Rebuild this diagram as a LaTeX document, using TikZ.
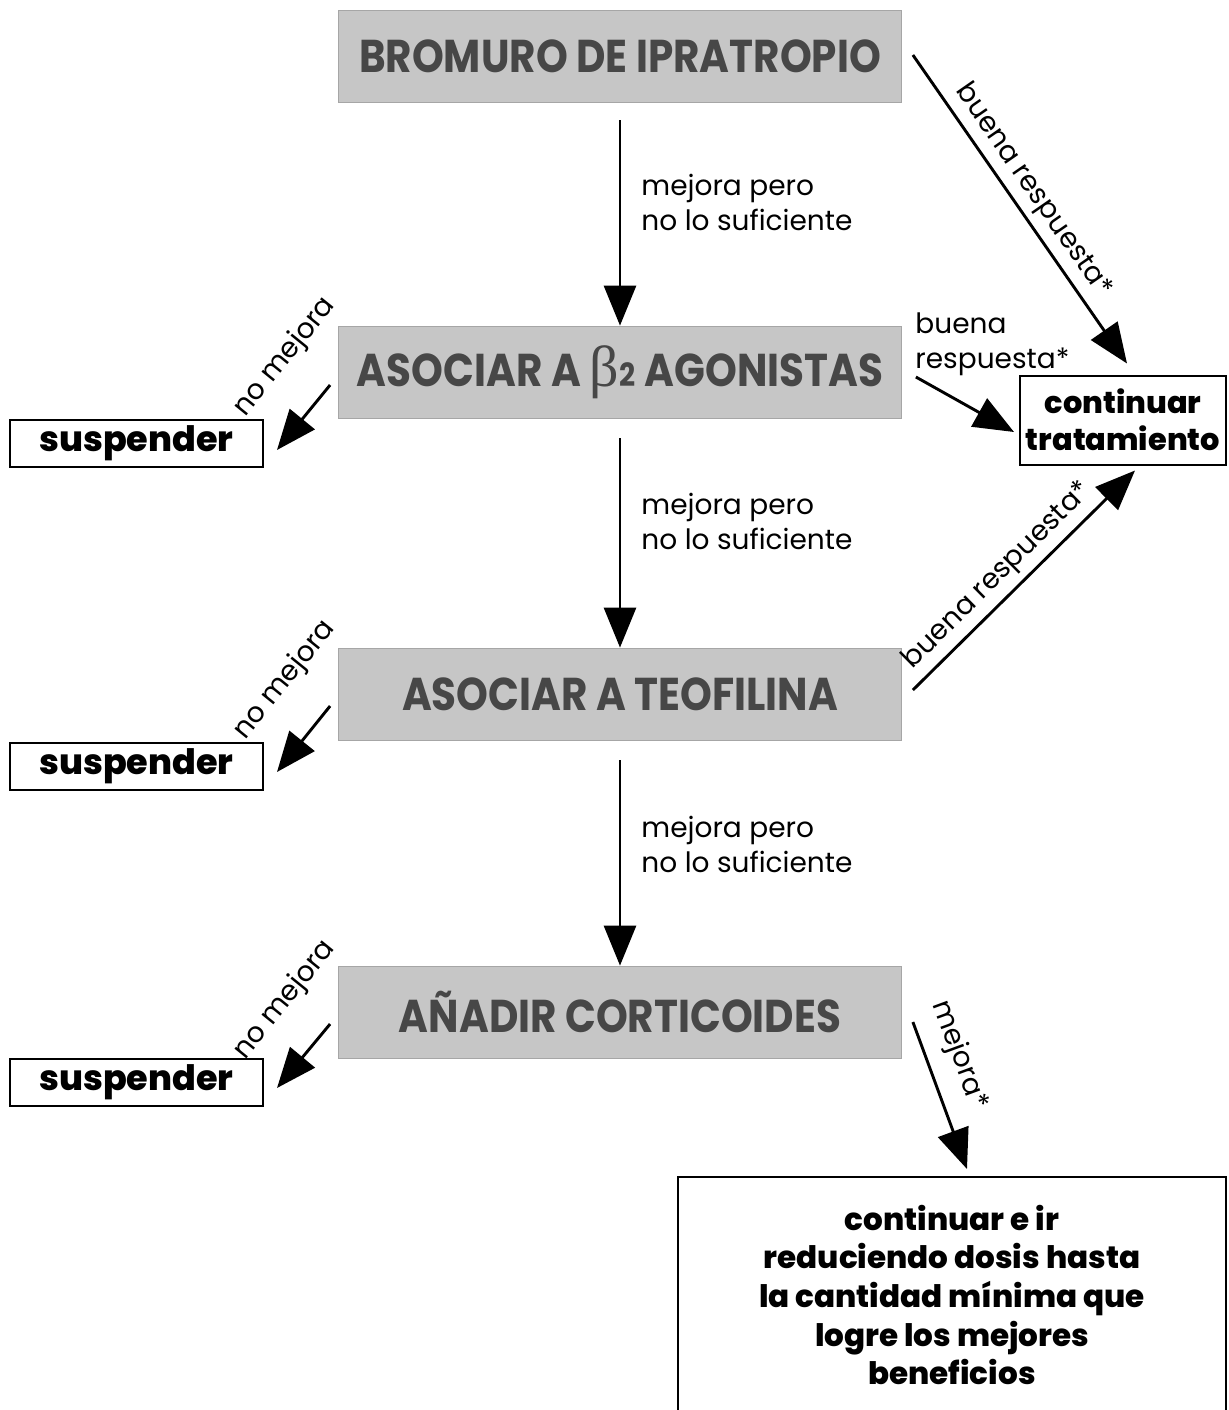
\documentclass[tikz,border=0pt]{standalone}
\usepackage{fontspec}
\IfFontExistsTF{Poppins ExtraBold}
  {\setmainfont{Poppins}[BoldFont={Poppins ExtraBold}]}
  {\setmainfont{Poppins}}
\newfontfamily\cajafont[FakeStretch=0.88]{Poppins}
\newfontfamily\griega{Liberation Serif}
\usetikzlibrary{arrows.meta,calc}

\begin{document}
\begin{tikzpicture}[x=0.5pt,y=-0.5pt,>={Triangle[length=20pt,width=16pt]},
  gbox/.style={draw=gray!70,fill=gray!45,text=black!72,font=\fontsize{23}{26}\cajafont\bfseries,
    minimum width=281.5pt,minimum height=46pt,inner sep=0pt},
  wbox/.style={draw,line width=1pt,fill=white,font=\fontsize{16.5}{18.5}\selectfont\bfseries,inner sep=1pt},
  susp/.style={wbox,minimum width=126.5pt,minimum height=23.5pt,font=\fontsize{17.5}{18.5}\selectfont\bfseries},
  lbl/.style={font=\fontsize{14}{17.5}\selectfont,inner sep=1pt},
  flecha/.style={->,line width=1.45pt}]
\useasboundingbox (0,0) rectangle (1229,1410);

\node[gbox] (bromuro) at (620,56) {BROMURO DE IPRATROPIO};
\node[gbox] (beta) at (620,372) {ASOCIAR A {\griega\mdseries\fontsize{29}{29}\selectfont β}\kern0.5pt{\fontsize{16}{16}\selectfont 2} AGONISTAS};
\node[gbox] (teof) at (620,694) {ASOCIAR A TEOFILINA};
\node[gbox] (corti) at (620,1012) {AÑADIR CORTICOIDES};

\node[susp] (susp1) at (136.5,443) {suspender};
\node[susp] (susp2) at (136.5,766) {suspender};
\node[susp] (susp3) at (136.5,1082) {suspender};
\node[wbox,minimum width=103pt,minimum height=44.5pt,align=center,inner sep=0pt,
  font=\fontsize{15.2}{18.5}\selectfont\bfseries] (cont) at (1123,420) {continuar\\tratamiento};
\node[wbox,minimum width=274pt,minimum height=118pt,align=center,font=\fontsize{15.5}{19.3}\selectfont\bfseries]
  (final) at (952,1295) {continuar e ir\\reduciendo dosis hasta\\la cantidad mínima que\\logre los mejores\\beneficios};

\draw[flecha,shorten <=9pt] (bromuro) -- (beta)
  node[lbl,pos=0.45,anchor=west,xshift=9pt,align=left]{mejora pero\\no lo suficiente};
\draw[flecha,shorten <=10pt] (beta) -- (teof)
  node[lbl,pos=0.45,anchor=west,xshift=9pt,align=left]{mejora pero\\no lo suficiente};
\draw[flecha,shorten <=10pt] (teof) -- (corti)
  node[lbl,pos=0.46,anchor=west,xshift=9pt,align=left]{mejora pero\\no lo suficiente};

\draw[flecha] ($(beta.west)+(-8,13)$) -- ($(susp1.east)+(13,7)$);
\draw[flecha] ($(teof.west)+(-8,12)$) -- ($(susp2.east)+(13,6)$);
\draw[flecha] ($(corti.west)+(-8,12)$) -- ($(susp3.east)+(13,6)$);
\node[lbl,rotate=51] at ($(beta.west)+(-53,-15)$) {no mejora};
\node[lbl,rotate=51] at ($(teof.west)+(-53,-14)$) {no mejora};
\node[lbl,rotate=51] at ($(corti.west)+(-53,-12)$) {no mejora};

\draw[flecha] ($(bromuro.east)+(11,-1)$) -- ($(cont.north)+(4,-11)$)
  node[lbl,pos=0.48,above=2pt,sloped]{buena respuesta*};
\draw[flecha] ($(beta.east)+(14,5)$) -- ($(cont.west)+(-5,12)$);
\node[lbl,anchor=north west,align=left] at (913,310) {buena\\respuesta*};
\draw[flecha] ($(teof.east)+(11,-4)$) -- ($(cont.south)+(12,5)$)
  node[lbl,pos=0.45,above=2pt,sloped]{buena respuesta*};
\draw[flecha] ($(corti.east)+(11,10)$) -- ($(final.north)+(15,-7)$)
  node[lbl,pos=0.3,above=7pt,sloped]{mejora*};
\end{tikzpicture}
\end{document}
